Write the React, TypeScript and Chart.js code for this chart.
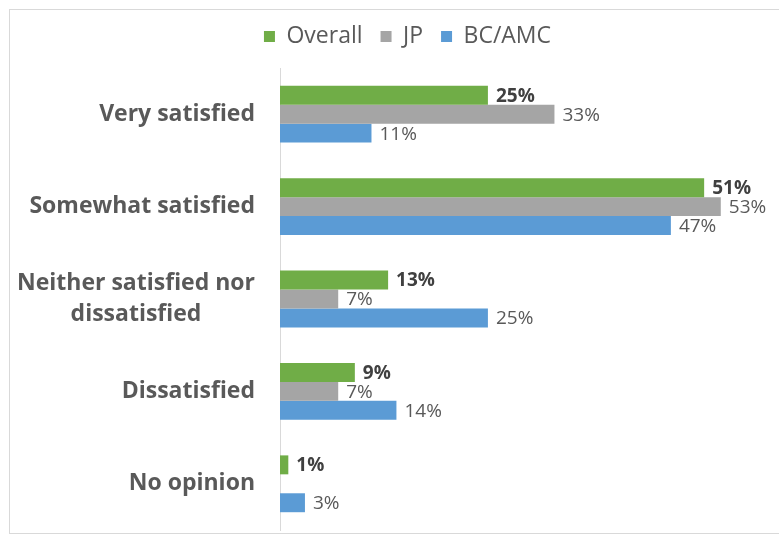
import React, { useEffect, useRef } from "react";
import { Chart, registerables } from "chart.js";

Chart.register(...registerables);

const categories: string[][] = [
  ["Very satisfied"],
  ["Somewhat satisfied"],
  ["Neither satisfied nor", "dissatisfied"],
  ["Dissatisfied"],
  ["No opinion"],
];
const seriesNames = ["Overall", "JP", "BC/AMC"];
const overallValues = [25, 51, 13, 9, 1];
const jpValues = [33, 53, 7, 7, 0];
const bcamcValues = [11, 47, 25, 14, 3];
const seriesColors = ["#70AD47", "#A5A5A5", "#5B9BD5"];

const FONT = "'Open Sans', 'Noto Sans', sans-serif";

const framePlugin = {
  id: "frame",
  beforeDraw(chart: any) {
    const ctx = chart.ctx;
    ctx.save();
    ctx.strokeStyle = "#D9D9D9";
    ctx.lineWidth = 1;
    ctx.strokeRect(9.5, 9.5, 900, 524);
    ctx.restore();
  },
};

const legendTweaks = {
  id: "legendTweaks",
  beforeInit(chart: any) {
    const legend = chart.legend;
    if (!legend) return;
    const origFit = legend.fit;
    legend.fit = function () {
      origFit.bind(legend)();
      this.height += 12;
    };
    const origDraw = legend.draw;
    legend.draw = function () {
      const ctx = chart.ctx;
      ctx.save();
      ctx.translate(18, 2);
      origDraw.bind(legend)();
      ctx.restore();
    };
  },
};

const categoryLabels = {
  id: "categoryLabels",
  afterDraw(chart: any) {
    const ctx = chart.ctx;
    const yScale = chart.scales.y;
    ctx.save();
    ctx.font = `bold 23px ${FONT}`;
    ctx.fillStyle = "#595959";
    ctx.textBaseline = "middle";
    ctx.textAlign = "center";
    const right = 255;
    const lineH = 31;
    categories.forEach((lines, i) => {
      const cy = yScale.getPixelForValue(i);
      const maxW = Math.max(...lines.map((l) => ctx.measureText(l).width));
      const cx = right - maxW / 2;
      const startY = cy - ((lines.length - 1) * lineH) / 2;
      lines.forEach((l, j) => ctx.fillText(l, cx, startY + j * lineH));
    });
    ctx.restore();
  },
};

const valueLabels = {
  id: "valueLabels",
  afterDatasetsDraw(chart: any) {
    const ctx = chart.ctx;
    ctx.save();
    ctx.textBaseline = "middle";
    ctx.textAlign = "left";
    chart.data.datasets.forEach((ds: any, di: number) => {
      const meta = chart.getDatasetMeta(di);
      ctx.font = di === 0 ? `bold 19px ${FONT}` : `19px ${FONT}`;
      ctx.fillStyle = di === 0 ? "#404040" : "#595959";
      meta.data.forEach((el: any, i: number) => {
        const v = ds.data[i];
        if (!v) return;
        ctx.fillText(`${v}%`, el.x + 8, el.y + 1);
      });
    });
    ctx.restore();
  },
};

export default function App() {
  const ref = useRef<HTMLCanvasElement | null>(null);
  useEffect(() => {
    if (!ref.current) return;
    const chart = new Chart(ref.current, {
      type: "bar",
      data: {
        labels: categories.map((c) => c.join(" ")),
        datasets: [overallValues, jpValues, bcamcValues].map((d, i) => ({
          label: seriesNames[i],
          data: d,
          backgroundColor: seriesColors[i],
          borderWidth: 0,
          barPercentage: 1,
          categoryPercentage: 0.615,
        })),
      },
      options: {
        indexAxis: "y",
        animation: false,
        responsive: false,
        maintainAspectRatio: false,
        layout: { padding: { top: 5, bottom: 8, left: 0, right: 0 } },
        plugins: {
          tooltip: { enabled: false },
          legend: {
            display: true,
            position: "top",
            labels: {
              boxWidth: 11,
              boxHeight: 11,
              padding: 18,
              color: "#595959",
              font: { family: FONT, size: 23 },
            },
          },
        },
        scales: {
          x: { min: 0, max: 60, display: false },
          y: {
            grid: { display: false },
            border: { display: true, color: "#D9D9D9", width: 1 },
            ticks: { display: false },
            afterFit(scale: any) {
              scale.width = 280;
            },
          },
        },
      },
      plugins: [framePlugin, legendTweaks, categoryLabels, valueLabels],
    } as any);
    return () => chart.destroy();
  }, []);
  return (
    <div style={{ position: "absolute", left: 0, top: 0, width: 779, height: 538, background: "#fff" }}>
      <canvas ref={ref} width={779} height={538} style={{ display: "block" }} />
    </div>
  );
}
